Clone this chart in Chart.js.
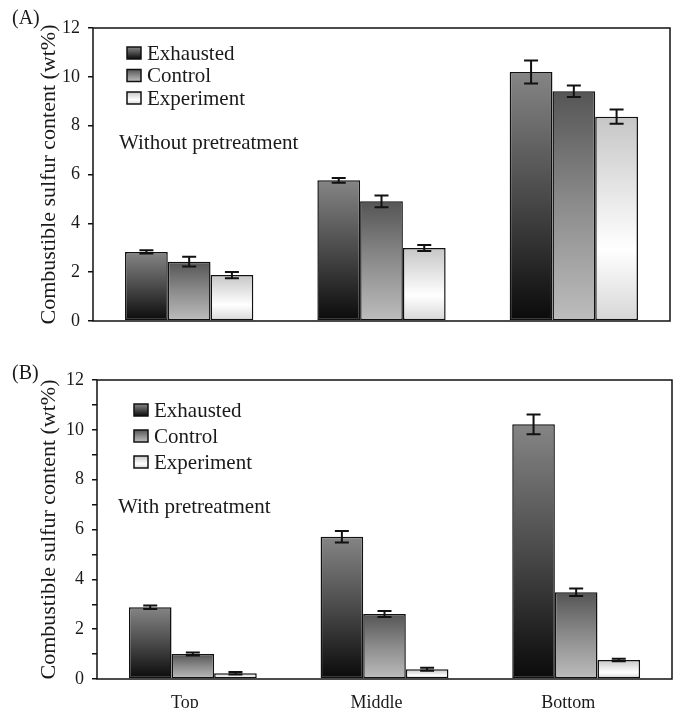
<!DOCTYPE html>
<html><head><meta charset="utf-8">
<script src="https://cdn.jsdelivr.net/npm/chart.js@4.4.0/dist/chart.umd.min.js"></script>
<style>
body{margin:0;background:#fff;width:675px;height:708px;position:relative;overflow:hidden;font-family:"Liberation Serif",serif;}
canvas{position:absolute;left:0;}
.plabel{position:absolute;font-size:20px;font-family:"Liberation Serif",serif;color:#1a1a1a;line-height:20px;}
</style></head><body>
<canvas id="chartA" width="675" height="345" style="top:0"></canvas>
<canvas id="chartB" width="675" height="363" style="top:345px"></canvas>
<div class="plabel" style="left:12px;top:7px">(A)</div>
<div class="plabel" style="left:12px;top:362px">(B)</div>
<script>
// ---- data ----
const categories = ['Top', 'Middle', 'Bottom'];
const seriesNames = ['Exhausted', 'Control', 'Experiment'];
const yTickValues = [0, 2, 4, 6, 8, 10, 12];
const yTitle = 'Combustible sulfur content (wt%)';

// Panel A: without pretreatment
const exhaustedA = [2.83, 5.76, 10.2];
const controlA = [2.43, 4.9, 9.41];
const experimentA = [1.88, 2.99, 8.37];
const exhaustedErrA = [0.07, 0.1, 0.47];
const controlErrA = [0.2, 0.24, 0.24];
const experimentErrA = [0.13, 0.12, 0.29];

// Panel B: with pretreatment
const exhaustedB = [2.88, 5.71, 10.22];
const controlB = [1.0, 2.61, 3.48];
const experimentB = [0.23, 0.39, 0.76];
const exhaustedErrB = [0.07, 0.23, 0.4];
const controlErrB = [0.06, 0.12, 0.15];
const experimentErrB = [0.05, 0.06, 0.05];

// ---- styles ----
Chart.defaults.font.family = '"Liberation Serif", "Times New Roman", serif';
Chart.defaults.color = '#1a1a1a';
const stopsList = [
  [[0, '#858585'], [0.5, '#4a4a4a'], [1, '#0a0a0a']],
  [[0, '#555555'], [0.5, '#8c8c8c'], [1, '#bdbdbd']],
  [[0, '#c6c6c6'], [0.65, '#ffffff'], [1, '#d6d6d6']]
];
function barGradient(stops) {
  return function (ctx) {
    const c = ctx.chart;
    if (!c.chartArea || ctx.raw == null) return stops[Math.floor(stops.length / 2)][1];
    const ys = c.scales.y;
    const top = ys.getPixelForValue(ctx.raw), bot = ys.getPixelForValue(0);
    const g = c.ctx.createLinearGradient(0, top, 0, bot);
    stops.forEach(s => g.addColorStop(s[0], s[1]));
    return g;
  };
}

const errorBars = {
  id: 'errorBars',
  afterDatasetsDraw(chart) {
    const ctx = chart.ctx, y = chart.scales.y;
    chart.data.datasets.forEach((ds, i) => {
      const meta = chart.getDatasetMeta(i);
      meta.data.forEach((bar, j) => {
        const v = ds.data[j], e = ds.errors[j];
        const yt = y.getPixelForValue(v + e), yb = y.getPixelForValue(v - e);
        ctx.save();
        ctx.strokeStyle = '#111';
        ctx.lineWidth = 2;
        ctx.beginPath();
        ctx.moveTo(bar.x, yt); ctx.lineTo(bar.x, yb);
        ctx.moveTo(bar.x - 7, yt); ctx.lineTo(bar.x + 7, yt);
        ctx.moveTo(bar.x - 7, yb); ctx.lineTo(bar.x + 7, yb);
        ctx.stroke();
        ctx.restore();
      });
    });
  }
};

const frameAndLegend = {
  id: 'frameAndLegend',
  afterDraw(chart, args, o) {
    const ctx = chart.ctx, a = chart.chartArea;
    ctx.save();
    ctx.strokeStyle = '#111';
    ctx.lineWidth = 1.5;
    ctx.strokeRect(a.left, a.top, a.right - a.left, a.bottom - a.top);
    // legend
    ctx.font = o.fontSize + 'px "Liberation Serif", serif';
    ctx.textBaseline = 'middle';
    ctx.fillStyle = '#1a1a1a';
    chart.data.datasets.forEach((ds, i) => {
      const cy = o.y0 + i * o.dy;
      const sx = o.sx, sw = o.sw, sh = o.sh;
      const g = ctx.createLinearGradient(0, cy - sh / 2, 0, cy + sh / 2);
      stopsList[i].forEach(s => g.addColorStop(s[0], s[1]));
      ctx.fillStyle = g;
      ctx.fillRect(sx, cy - sh / 2, sw, sh);
      ctx.lineWidth = 1.5;
      ctx.strokeRect(sx, cy - sh / 2, sw, sh);
      ctx.fillStyle = '#1a1a1a';
      ctx.fillText(ds.label, o.tx, cy + 1);
    });
    ctx.fillText(o.note, o.nx, o.ny);
    ctx.restore();
  }
};

function makeChart(id, vals, errs, opt) {
  const datasets = seriesNames.map((name, i) => ({
    label: name,
    data: vals[i],
    errors: errs[i],
    backgroundColor: barGradient(stopsList[i]),
    borderColor: '#111',
    borderWidth: 1.5,
    borderSkipped: false,
    categoryPercentage: 0.667,
    barPercentage: 1.0
  }));
  return new Chart(document.getElementById(id), {
    type: 'bar',
    data: { labels: categories, datasets },
    plugins: [errorBars, frameAndLegend],
    options: {
      responsive: false,
      animation: false,
      layout: { padding: opt.padding },
      plugins: {
        legend: { display: false },
        tooltip: { enabled: false },
        frameAndLegend: opt.legend
      },
      scales: {
        x: {
          display: opt.showX,
          grid: { display: false },
          border: { display: false },
          ticks: { font: { size: 18 }, padding: 5, labelOffset: -8, color: '#1a1a1a' },
          afterFit: s => { s.height = opt.showX ? 29 : 0; }
        },
        y: {
          min: 0, max: 12,
          afterBuildTicks: s => {
            const t = [];
            for (let v = 0; v <= 12; v++) t.push({ value: v });
            s.ticks = t;
          },
          ticks: {
            font: { size: 18 }, padding: 8, color: '#1a1a1a',
            callback: v => yTickValues.includes(v) ? String(v) : ''
          },
          grid: { drawOnChartArea: false, drawTicks: true, tickLength: 5, color: '#111', lineWidth: 1.5 },
          border: { display: false },
          title: { display: true, text: yTitle, font: { size: 22 }, padding: { top: 4, bottom: 4 }, color: '#1a1a1a' },
          afterFit: s => { s.width = opt.yWidth; }
        }
      }
    }
  });
}

makeChart('chartA',
  [exhaustedA, controlA, experimentA],
  [exhaustedErrA, controlErrA, experimentErrA],
  {
    padding: { top: 28, bottom: 24, left: 32, right: 5 },
    showX: false, yWidth: 61,
    legend: { fontSize: 21, y0: 53, dy: 22.5, sx: 127, sw: 14, sh: 12, tx: 147, note: 'Without pretreatment', nx: 119, ny: 143 }
  });

makeChart('chartB',
  [exhaustedB, controlB, experimentB],
  [exhaustedErrB, controlErrB, experimentErrB],
  {
    padding: { top: 35, bottom: 0, left: 32, right: 3 },
    showX: true, yWidth: 65,
    legend: { fontSize: 21, y0: 65, dy: 26, sx: 134, sw: 14, sh: 12, tx: 154, note: 'With pretreatment', nx: 118, ny: 162 }
  });
</script>
</body></html>
